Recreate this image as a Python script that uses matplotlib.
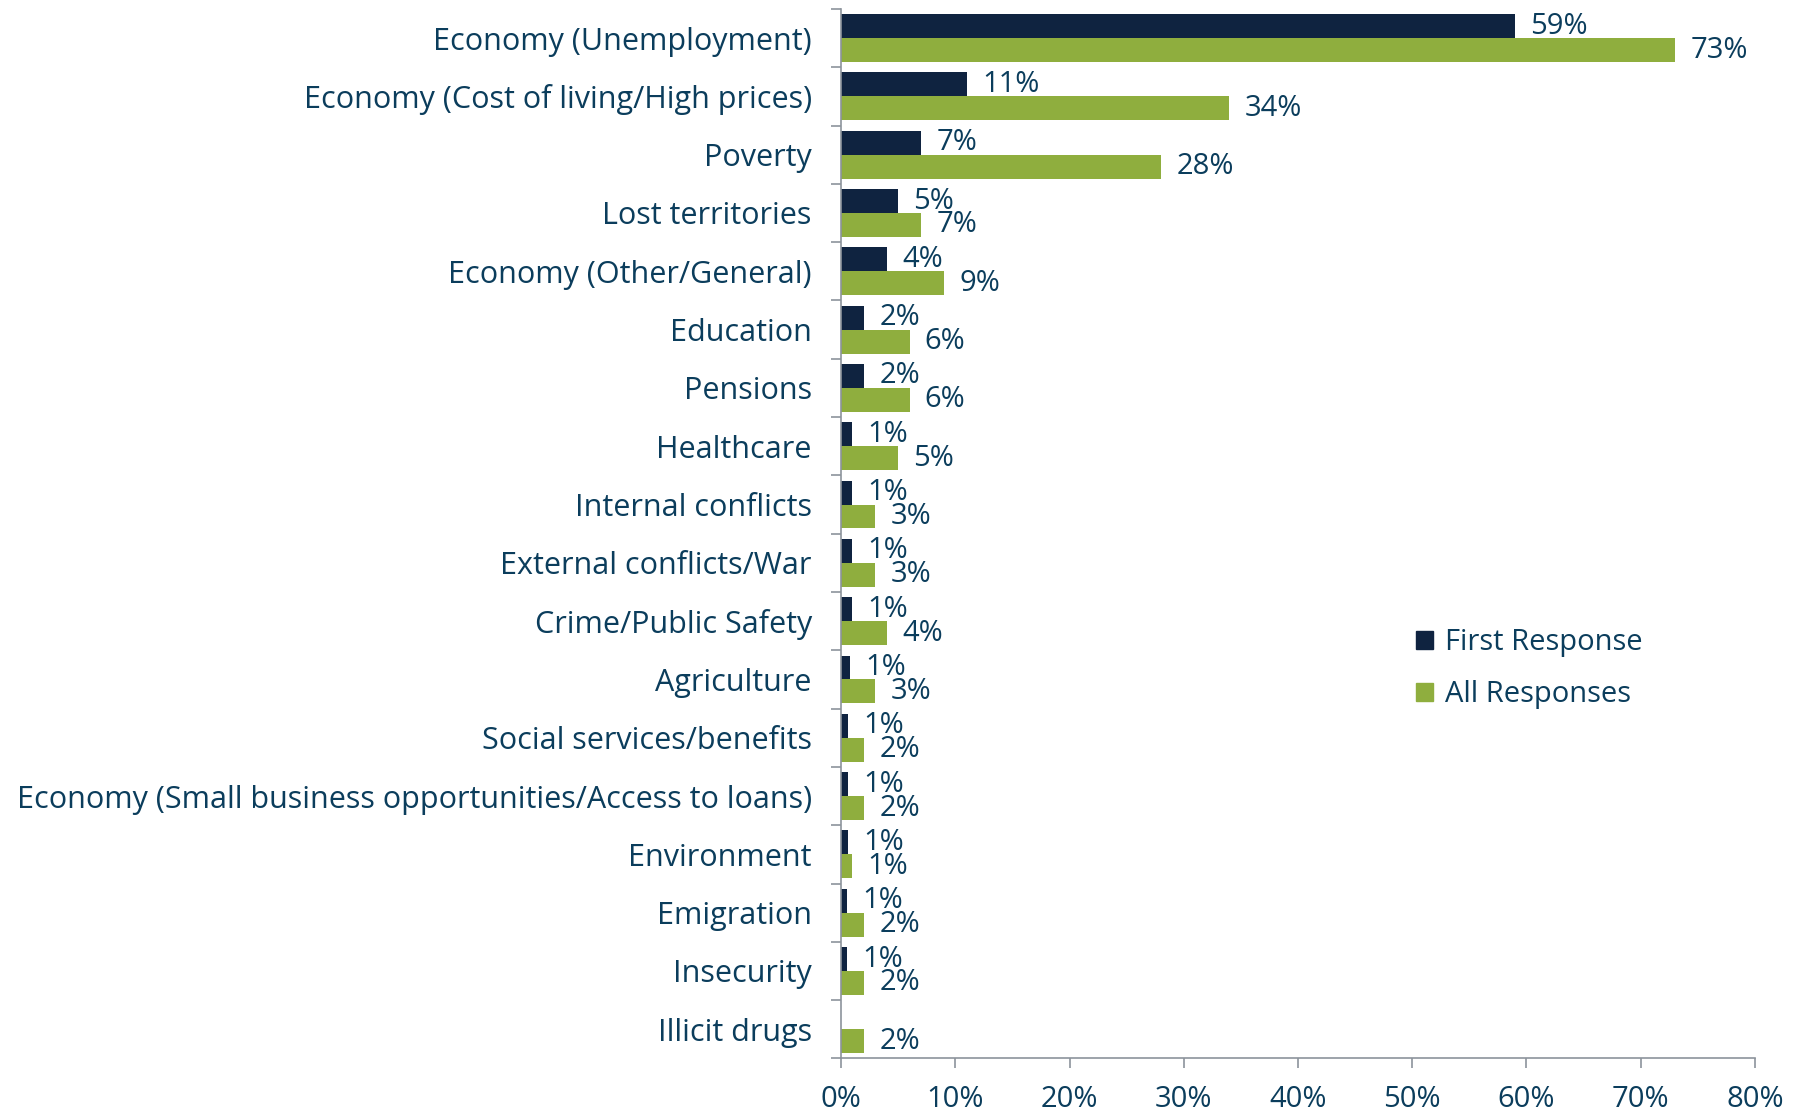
import numpy as np
import matplotlib
matplotlib.use('Agg')
import matplotlib.pyplot as plt
from matplotlib.patches import Patch

categories = [
    'Economy (Unemployment)',
    'Economy (Cost of living/High prices)',
    'Poverty',
    'Lost territories',
    'Economy (Other/General)',
    'Education',
    'Pensions',
    'Healthcare',
    'Internal conflicts',
    'External conflicts/War',
    'Crime/Public Safety',
    'Agriculture',
    'Social services/benefits',
    'Economy (Small business opportunities/Access to loans)',
    'Environment',
    'Emigration',
    'Insecurity',
    'Illicit drugs',
]
first_response = [59, 11, 7, 5, 4, 2, 2, 1, 1, 1, 1, 0.8, 0.6, 0.6, 0.6, 0.5, 0.5, 0]
all_responses = [73, 34, 28, 7, 9, 6, 6, 5, 3, 3, 4, 3, 2, 2, 1, 2, 2, 2]

DARK = '#0f2340'
GREEN = '#8fae3e'
TEXT = '#0b3d5c'
AXIS = '#8c939c'
FS_CAT = 22
FS = 21

plt.rcParams['font.family'] = ['Open Sans', 'DejaVu Sans']

fig = plt.figure(figsize=(17.99, 11.13), dpi=100)
ax = fig.add_axes([0.4675, 0.049, 0.508, 0.943])

y = np.arange(len(categories))
h = 0.41
ax.barh(y - h / 2, first_response, height=h, color=DARK, label='First Response')
ax.barh(y + h / 2, all_responses, height=h, color=GREEN, label='All Responses')


def pct(v):
    return f'{int(np.floor(v + 0.5))}%'


for yi, v in zip(y, first_response):
    if v > 0:
        ax.annotate(pct(v), (v, yi - h / 2), xytext=(11, 0), textcoords='offset points',
                    va='center', ha='left', fontsize=FS, color=TEXT)
for yi, v in zip(y, all_responses):
    ax.annotate(pct(v), (v, yi + h / 2), xytext=(11, 0), textcoords='offset points',
                va='center', ha='left', fontsize=FS, color=TEXT)

ax.set_xlim(0, 80)
ax.set_ylim(len(categories) - 0.5, -0.5)
ax.set_xticks(np.arange(0, 81, 10))
ax.set_xticklabels([f'{t}%' for t in range(0, 81, 10)])

# category boundaries get the tick marks, centres get the labels
ax.set_yticks(np.arange(-0.5, len(categories), 1.0))
ax.set_yticklabels([])
ax.set_yticks(y, minor=True)
ax.set_yticklabels(categories, minor=True)
ax.tick_params(axis='y', which='major', length=7, width=1.2, color=AXIS)
ax.tick_params(axis='y', which='minor', length=0, pad=21, labelsize=FS_CAT, labelcolor=TEXT)
ax.tick_params(axis='x', length=7, width=1.2, color=AXIS, labelsize=FS,
               labelcolor=TEXT, pad=12)

for s in ('top', 'right'):
    ax.spines[s].set_visible(False)
for s in ('left', 'bottom'):
    ax.spines[s].set_color(AXIS)
    ax.spines[s].set_linewidth(1.2)

handles = [Patch(color=DARK, label='First Response'), Patch(color=GREEN, label='All Responses')]
leg = ax.legend(handles=handles, loc='upper left', bbox_to_anchor=(0.6, 0.435),
                frameon=False, fontsize=FS, handlelength=0.6, handleheight=0.6,
                handletextpad=0.4, labelspacing=0.8)
for t in leg.get_texts():
    t.set_color(TEXT)

fig.savefig('out.png', dpi=100)
